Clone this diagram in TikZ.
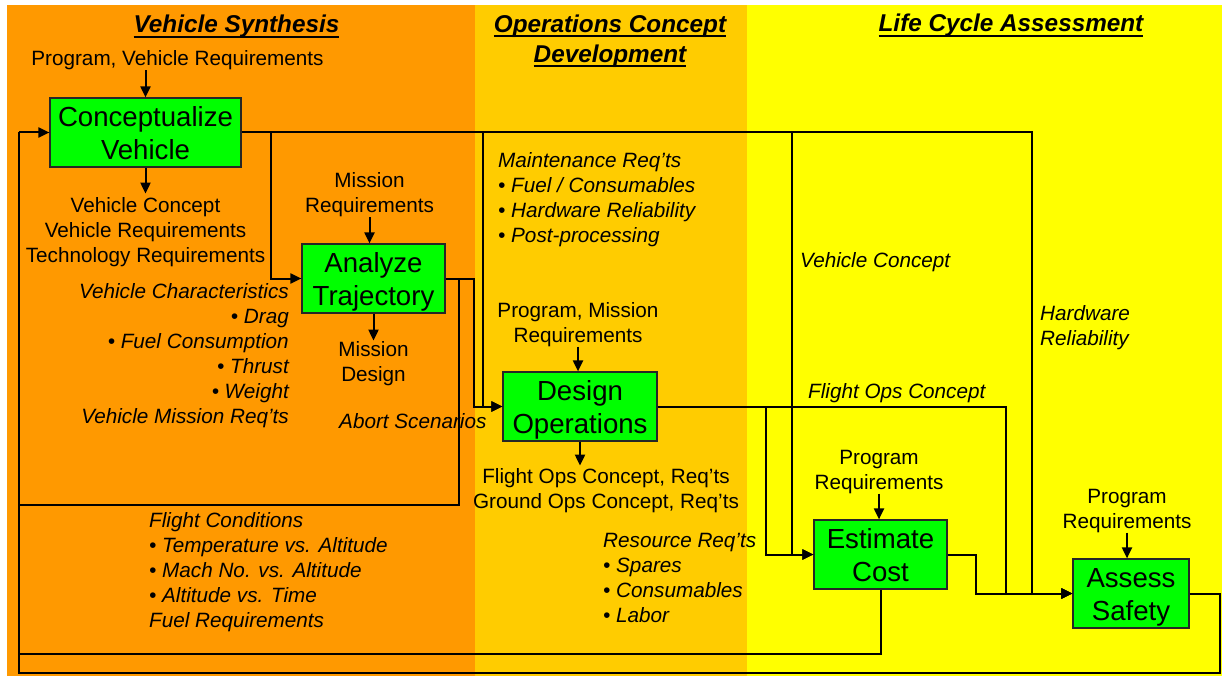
\documentclass[tikz,border=0pt]{standalone}
\usepackage{fontspec}
\setmainfont{Liberation Sans}
\definecolor{OrangeSynthese}{HTML}{FF9900}
\definecolor{OrangeOps}{HTML}{FFCC00}
\definecolor{JauneCycle}{HTML}{FFFF00}
\definecolor{VertBoite}{HTML}{00FF00}
\usetikzlibrary{arrows.meta}
\usetikzlibrary{positioning}
\newsavebox{\BoiteTitre}
\newcommand{\Souligne}[1]{\sbox{\BoiteTitre}{#1}\rlap{\rule[-5pt]{\wd\BoiteTitre}{2.4pt}}\usebox{\BoiteTitre}}
\newcommand{\Cale}{\rule[-6pt]{0pt}{33pt}}
\tikzset{
	boite/.style={draw=black!85, line width=1.2pt, fill=VertBoite, inner sep=0pt,
		minimum height=69pt, align=center, font=\fontsize{27.6}{33}\selectfont},
	etiquette/.style={inner sep=0pt, align=center, font=\fontsize{20.7}{25}\selectfont},
	liste/.style={inner sep=0pt, font=\fontsize{20.7}{25}\selectfont\itshape},
	titre/.style={inner sep=0pt, align=center, font=\fontsize{24.3}{30}\selectfont\bfseries\itshape},
	lien/.style={line width=2pt},
	fleche/.style={lien, arrows={-Stealth[length=11pt, width=10pt, inset=0]}}
}
\begin{document}
\begin{tikzpicture}[x=1pt, y=-1pt]
    % Fond des trois colonnes
    \useasboundingbox (0,0) rectangle (1222,676);
    \fill[white] (0,0) rectangle (1222,676);
    \fill[OrangeSynthese] (7,5) rectangle (475,676);
    \fill[OrangeOps] (475,5) rectangle (747,676);
    \fill[JauneCycle] (747,5) rectangle (1222,676);

    \node[titre, anchor=base] (tSynth) at (236.5,33) {\Souligne{Vehicle Synthesis}};
    \node[titre, anchor=north] (tOps) at (610,14.5) {\Souligne{Operations Concept}\\\Souligne{Development}};
    \node[titre, anchor=base] (tCycle) at (1011,32) {\Souligne{Life Cycle Assessment}};

    % Les cinq activites
    \node[boite, minimum width=191pt] (concept) at (145.5,132.5) {\Cale Conceptualize\\Vehicle\Cale};
    \node[boite, minimum width=143pt] (traj) at (373.5,278.5) {\Cale Analyze\\Trajectory\Cale};
    \node[boite, minimum width=154pt] (ops) at (580,406.5) {\Cale Design\\Operations\Cale};
    \node[boite, minimum width=133pt] (cost) at (880.5,554.5) {\Cale Estimate\\Cost\Cale};
    \node[boite, minimum width=116pt] (safety) at (1131,593.5) {\Cale Assess\\Safety\Cale};

    % Entrees et sorties verticales
    \node[etiquette, above=27pt of concept, xshift=32pt] (progVeh) {Program, Vehicle Requirements};
    \draw[fleche] (progVeh.south -| concept.north) -- (concept.north);
    \node[etiquette, below=30pt of concept] (sortVeh) {Vehicle Concept\\Vehicle Requirements\\Technology Requirements};
    \draw[fleche, shorten >=4pt] (concept.south) -- (sortVeh.north);
    \node[etiquette, above=26pt of traj, xshift=-4pt] (missReq) {Mission\\Requirements};
    \draw[fleche] (missReq.south) -- (missReq.south |- traj.north);
    \node[etiquette, below=28pt of traj] (missDes) {Mission\\Design};
    \draw[fleche, shorten >=1pt] (traj.south) -- (missDes.north);
    \node[etiquette, above=24.7pt of ops, xshift=-2pt] (progMiss) {Program, Mission\\Requirements};
    \draw[fleche] (progMiss.south) -- (progMiss.south |- ops.north);
    \node[etiquette, below=27pt of ops, xshift=26pt] (sortOps) {Flight Ops Concept, Req'ts\\Ground Ops Concept, Req'ts};
    \draw[fleche, shorten >=3pt] (ops.south) -- (ops.south |- sortOps.north);
    \node[etiquette, above=25.7pt of cost, xshift=-1.5pt] (progCost) {Program\\Requirements};
    \draw[fleche] (progCost.south) -- (progCost.south |- cost.north);
    \node[etiquette, above=25.7pt of safety, xshift=-4pt] (progSafe) {Program\\Requirements};
    \draw[fleche] (progSafe.south) -- (progSafe.south |- safety.north);

    % Listes en italique
    \node[liste, align=right, anchor=north east] (vehCar) at (289,283) {Vehicle Characteristics\\\textbullet{} Drag\\\textbullet{} Fuel Consumption\\\textbullet{} Thrust\\\textbullet{} Weight\\Vehicle Mission Req'ts};
    \node[liste, anchor=base west] (abort) at (339,428) {Abort Scenarios};
    \node[liste, align=left, anchor=north west] (flightCond) at (149,512) {Flight Conditions\\\textbullet{} Temperature vs. Altitude\\\textbullet{} Mach No. vs. Altitude\\\textbullet{} Altitude vs. Time\\Fuel Requirements};
    \node[liste, align=left, anchor=north west] (maint) at (498,152) {Maintenance Req'ts\\\textbullet{} Fuel / Consumables\\\textbullet{} Hardware Reliability\\\textbullet{} Post-processing};
    \node[liste, align=left, anchor=north west] (ressource) at (603,533) {Resource Req'ts\\\textbullet{} Spares\\\textbullet{} Consumables\\\textbullet{} Labor};
    \node[liste, anchor=base west] (vehConc) at (800,267) {Vehicle Concept};
    \node[liste, align=left, anchor=north west] (hwRel) at (1040,305) {Hardware\\Reliability};
    \node[liste, anchor=base west] (flightOps) at (808,398) {Flight Ops Concept};

    % Points de branchement
    \coordinate (brTraj) at (271,132.5);
    \coordinate (brOps) at (483,132.5);
    \coordinate (brCost) at (792,132.5);
    \coordinate (brSafe) at (1032,132.5);
    \coordinate (retour) at (19,132.5);
    \coordinate (sortTraj) at (474,278.5);
    \coordinate (boucleTraj) at (459,505);
    \coordinate (boucleCost) at (19,654);
    \coordinate (boucleSafe) at (1220,673);
    \coordinate (brOpsCost) at (766,406.5);
    \coordinate (brOpsSafe) at (1006,406.5);
    \coordinate (sortCost) at (976,554.5);

    % Flux horizontaux
    \draw[fleche] (concept.east) -- (brSafe) |- (safety.west);
    \draw[fleche] (brTraj) |- (traj.west);
    \draw[fleche] (brOps) |- (ops.west);
    \draw[fleche] (brCost) |- (cost.west);
    \draw[fleche] (traj.east) -- (sortTraj) |- (ops.west);
    \draw[fleche] (ops.east) -- (brOpsSafe) |- (safety.west);
    \draw[fleche] (brOpsCost) |- (cost.west);
    \draw[fleche] (cost.east) -- (sortCost) |- (safety.west);
    % Retours vers la synthese
    \draw[lien] (traj.east) -| (boucleTraj) -| (retour);
    \draw[lien] (cost.south) |- (boucleCost);
    \draw[lien] (safety.east) -| (boucleSafe) -| (retour);
    \draw[fleche] (retour) -- (concept.west);
\end{tikzpicture}
\end{document}
